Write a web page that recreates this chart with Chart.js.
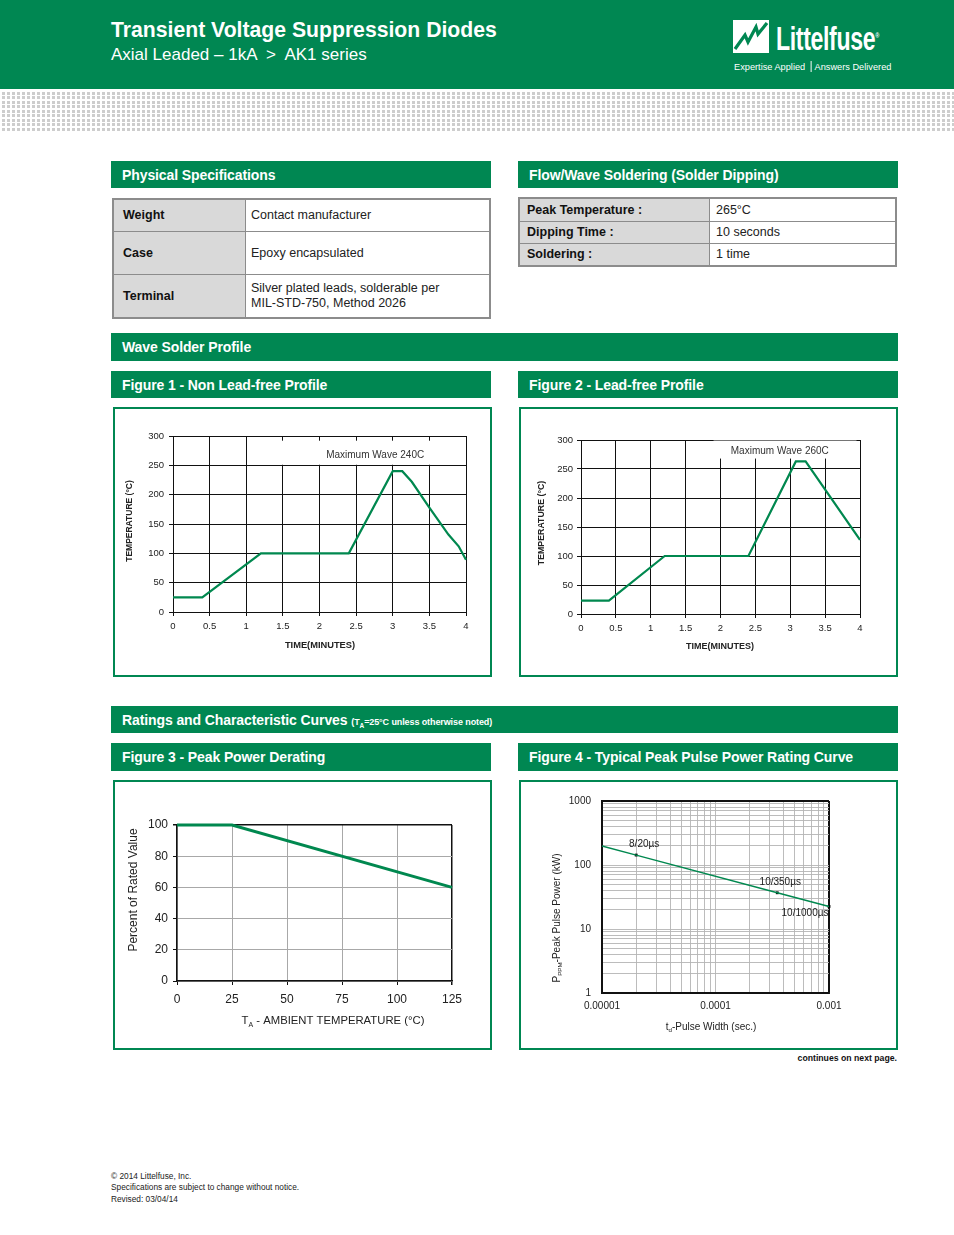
<!DOCTYPE html>
<html>
<head>
<meta charset="utf-8">
<script src="https://cdn.jsdelivr.net/npm/chart.js@4.4.1/dist/chart.umd.min.js"></script>
<style>
  body { margin: 0; width: 954px; height: 1235px; position: relative; overflow: hidden; background: #fff;
         font-family: "Liberation Sans", Arial, sans-serif; color: #222; }
  .abs { position: absolute; }
  .top { left: 0; top: 0; width: 954px; height: 89px; background: #008752; color: #fff; }
  .stripe { left: 0; top: 92px; width: 954px; height: 40px;
            background: repeating-linear-gradient(90deg, #fff 0 2px, transparent 2px 5px),
                        repeating-linear-gradient(0deg, #fff 0 1.5px, transparent 1.5px 4.5px), #cdcdcd; }
  .bar { position: absolute; background: #008752; color: #fff; font-weight: bold; font-size: 14px;
         height: 27px; line-height: 28px; padding-left: 11px; box-sizing: border-box; letter-spacing: -0.1px; white-space: nowrap; }
  .box { position: absolute; border: 2px solid #008752; box-sizing: border-box; width: 379px; height: 270px; }
  canvas { position: absolute; }
  table { position: absolute; border-collapse: collapse; font-size: 12.5px; color: #222; border: 2px solid #8c8c8c; }
  td { border: 1px solid #8c8c8c; padding: 0 0 0 5px; }
  td.k { background: #d9d9d9; font-weight: bold; color: #111; padding-left: 9px; }
  .foot { left: 111px; font-size: 8.3px; color: #222; white-space: nowrap; }
</style>
</head>
<body>

<div class="abs top">
  <div class="abs" style="left:111px;top:18px;font-size:21.2px;font-weight:bold;white-space:nowrap">Transient Voltage Suppression Diodes</div>
  <div class="abs" style="left:111px;top:45px;font-size:17px;white-space:nowrap">Axial Leaded – 1kA &nbsp;&gt;&nbsp; AK1 series</div>
  <svg class="abs" style="left:733px;top:20px" width="36" height="33" viewBox="0 0 36 33">
    <rect x="0" y="0" width="36" height="33" fill="#fff"/>
    <polyline points="2,29 12,15 15,22 23,7 25,14 34,3" fill="none" stroke="#008752" stroke-width="3.2"/>
  </svg>
  <div class="abs" style="left:776px;top:20px;font-size:33px;font-weight:bold;white-space:nowrap;transform:scaleX(0.7);transform-origin:left top;letter-spacing:-0.5px">Littelfuse<sup style="font-size:8px">®</sup></div>
  <div class="abs" style="left:734px;top:61px;font-size:9.5px;white-space:nowrap;transform:scaleX(0.97);transform-origin:left top">Expertise Applied <span style="border-left:1px solid #fff;margin:0 3px"></span> Answers Delivered</div>
</div>
<div class="abs stripe"></div>

<div class="bar" style="left:111px;top:161px;width:380px">Physical Specifications</div>
<table style="left:112px;top:198px;width:379px;height:119px">
  <tr style="height:32px"><td class="k" style="width:122px">Weight</td><td>Contact manufacturer</td></tr>
  <tr style="height:43px"><td class="k">Case</td><td>Epoxy encapsulated</td></tr>
  <tr style="height:44px"><td class="k">Terminal</td><td style="line-height:15px">Silver plated leads, solderable per<br>MIL-STD-750, Method 2026</td></tr>
</table>

<div class="bar" style="left:518px;top:161px;width:380px">Flow/Wave Soldering (Solder Dipping)</div>
<table style="left:518px;top:197px;width:379px;height:68px">
  <tr style="height:23px"><td class="k" style="width:182px;padding-left:7px">Peak Temperature :</td><td style="padding-left:6px">265°C</td></tr>
  <tr style="height:22px"><td class="k" style="padding-left:7px">Dipping Time :</td><td style="padding-left:6px">10 seconds</td></tr>
  <tr style="height:23px"><td class="k" style="padding-left:7px">Soldering :</td><td style="padding-left:6px">1 time</td></tr>
</table>

<div class="bar" style="left:111px;top:333px;width:787px;height:28px">Wave Solder Profile</div>
<div class="bar" style="left:111px;top:371px;width:380px">Figure 1 - Non Lead-free Profile</div>
<div class="bar" style="left:518px;top:371px;width:380px">Figure 2 - Lead-free Profile</div>
<div class="box" style="left:113px;top:407px"></div>
<div class="box" style="left:519px;top:407px"></div>
<canvas id="fig1" width="374" height="265" style="left:115px;top:409px"></canvas>
<canvas id="fig2" width="374" height="265" style="left:521px;top:409px"></canvas>

<div class="bar" style="left:111px;top:706px;width:787px">Ratings and Characteristic Curves <span style="font-size:9px">(T<sub style="font-size:6.5px">A</sub>=25°C unless otherwise noted)</span></div>
<div class="bar" style="left:111px;top:743px;width:380px;height:28px">Figure 3 - Peak Power Derating</div>
<div class="bar" style="left:518px;top:743px;width:380px;height:28px">Figure 4 - Typical Peak Pulse Power Rating Curve</div>
<div class="box" style="left:113px;top:780px"></div>
<div class="box" style="left:519px;top:780px"></div>
<canvas id="fig3" width="374" height="265" style="left:115px;top:782px"></canvas>
<canvas id="fig4" width="374" height="265" style="left:521px;top:782px"></canvas>

<div class="abs" style="right:57px;top:1053px;font-size:8.7px;font-weight:bold;color:#111">continues on next page.</div>
<div class="abs foot" style="top:1171px">© 2014 Littelfuse, Inc.</div>
<div class="abs foot" style="top:1182px">Specifications are subject to change without notice.</div>
<div class="abs foot" style="top:1194px">Revised: 03/04/14</div>

<script>
// Figure 1 - Non Lead-free Profile (time in minutes, temperature in °C)
const fig1Time = [0, 0.4, 1.2, 2.4, 3.0, 3.13, 3.26, 3.5, 3.76, 3.9, 4.0];
const fig1Temp = [25, 25, 100, 100, 240, 240, 222, 178, 132, 112, 89];

// Figure 2 - Lead-free Profile
const fig2Time = [0, 0.4, 1.2, 2.4, 3.08, 3.22, 4.0];
const fig2Temp = [23, 23, 100, 100, 263, 263, 128];

// Figure 3 - Peak Power Derating
const fig3Ambient = [0, 25, 125];
const fig3Percent = [100, 100, 60];

// Figure 4 - Peak pulse power vs pulse width
const fig4Width = [1e-5, 2e-5, 3.5e-4, 1e-3];
const fig4Power = [198, 143, 36.8, 22.5];
const fig4MarkIdx = [1, 2, 3];
const fig4MarkLabels = ['8/20µs', '10/350µs', '10/1000µs'];
const fig4XDecades = [1e-5, 1e-4, 1e-3];
const fig4XTickLabels = ['0.00001', '0.0001', '0.001'];
const fig4YDecades = [1, 10, 100, 1000];
const fig4YTickLabels = ['1', '10', '100', '1000'];

const GREEN = '#00884f';
const FONT = '"Liberation Sans", Arial, sans-serif';
const TXT = '#222';

const pts = (xs, ys) => xs.map((x, i) => ({ x, y: ys[i] }));

// minor log ticks (1..9 x decade) up to the last decade
const logTicks = (decades) => {
    const out = [];
    decades.forEach((d, i) => {
        if (i === decades.length - 1) { out.push(d); return; }
        for (let k = 1; k <= 9; k++) out.push(d * k);
    });
    return out;
};

// text with subscripts, centred on (x, y), optionally rotated
const drawRich = (ctx, parts, x, y, size, bold, rotate) => {
    const w0 = bold ? 'bold ' : '';
    const main = `${w0}${size}px ${FONT}`;
    const sub = `${w0}${(size * 0.62).toFixed(1)}px ${FONT}`;
    ctx.save();
    ctx.translate(x, y);
    if (rotate) ctx.rotate(-Math.PI / 2);
    let w = 0;
    parts.forEach(p => { ctx.font = p.sub ? sub : main; w += ctx.measureText(p.t).width; });
    let cx = -w / 2;
    ctx.fillStyle = TXT;
    ctx.textBaseline = 'middle';
    ctx.textAlign = 'left';
    parts.forEach(p => {
        ctx.font = p.sub ? sub : main;
        ctx.fillText(p.t, cx, p.sub ? size * 0.32 : 0);
        cx += ctx.measureText(p.t).width;
    });
    ctx.restore();
};

const decor = {
    id: 'decor',
    beforeDatasetsDraw(chart, _args, o) {
        if (!o.note) return;
        const { ctx, scales: { x, y } } = chart;
        const n = o.note;
        const l = x.getPixelForValue(n.box[0]), r = x.getPixelForValue(n.box[1]);
        const b = y.getPixelForValue(n.box[2]), t = y.getPixelForValue(n.box[3]);
        ctx.save();
        ctx.fillStyle = '#fff';
        ctx.fillRect(l, t, r - l, b - t);
        ctx.fillStyle = '#333';
        ctx.font = `10px ${FONT}`;
        ctx.textAlign = 'center';
        ctx.textBaseline = 'middle';
        ctx.fillText(n.text, x.getPixelForValue(n.at[0]), y.getPixelForValue(n.at[1]));
        ctx.restore();
    },
    afterDraw(chart, _args, o) {
        const ctx = chart.ctx;
        (o.titles || []).forEach(t =>
            drawRich(ctx, t.parts, t.x - o.origin[0], t.y - o.origin[1], t.size, t.bold, t.rotate));
        if (o.marks) {
            const meta = chart.getDatasetMeta(o.marks.dataset);
            ctx.save();
            ctx.fillStyle = TXT;
            ctx.font = `10px ${FONT}`;
            ctx.textAlign = 'center';
            ctx.textBaseline = 'middle';
            meta.data.forEach((el, i) => {
                const off = o.marks.offsets[i];
                ctx.fillText(o.marks.labels[i], el.x + off[0], el.y + off[1]);
            });
            ctx.restore();
        }
    }
};

// layout helper: place the plot area at page coords
const padFor = (origin, size, area, yW, xH) => ({
    left: area[0] - origin[0] - yW,
    right: origin[0] + size[0] - area[1],
    top: area[2] - origin[1],
    bottom: origin[1] + size[1] - area[3] - xH
});

const makeChart = (id, origin, area, yW, xH, datasets, scales, decorOpts) => {
    scales.x.afterFit = s => { s.height = xH; };
    scales.y.afterFit = s => { s.width = yW; };
    decorOpts.origin = origin;
    return new Chart(document.getElementById(id), {
        type: 'line',
        data: { datasets },
        options: {
            responsive: false,
            animation: false,
            layout: { padding: padFor(origin, [374, 265], area, yW, xH) },
            scales,
            plugins: { legend: { display: false }, tooltip: { enabled: false }, decor: decorOpts }
        },
        plugins: [decor]
    });
};

// ---------- Figures 1 and 2 : solder profiles ----------
const plain = v => String(v);

const profileScales = (labelPad) => ({
    x: {
        type: 'linear', min: 0, max: 4,
        ticks: { stepSize: 0.5, color: TXT, font: { size: 9.5, family: FONT }, padding: labelPad[1], maxRotation: 0, callback: plain },
        grid: { color: '#111', lineWidth: 1, tickLength: 4, tickColor: '#111' },
        border: { color: '#111', width: 1 }
    },
    y: {
        min: 0, max: 300,
        ticks: { stepSize: 50, color: TXT, font: { size: 9.5, family: FONT }, padding: labelPad[0] },
        grid: { color: '#111', lineWidth: 1, tickLength: 4, tickColor: '#111' },
        border: { color: '#111', width: 1 }
    }
});

const profileLine = (data) => [{
    data, borderColor: GREEN, borderWidth: 2.2, pointRadius: 0, tension: 0, clip: false
}];

makeChart('fig1', [115, 409], [173, 466, 436, 612], 40, 25,
    profileLine(pts(fig1Time, fig1Temp)), profileScales([5, 5]), {
        note: { text: 'Maximum Wave 240C', box: [1.35, 3.95, 251, 292], at: [2.76, 268] },
        titles: [
            { parts: [{ t: 'TEMPERATURE (°C)' }], x: 130, y: 521, size: 8.5, bold: true, rotate: true },
            { parts: [{ t: 'TIME(MINUTES)' }], x: 320, y: 645, size: 9.3, bold: true }
        ]
    });

makeChart('fig2', [521, 409], [581, 860, 440, 614], 40, 25,
    profileLine(pts(fig2Time, fig2Temp)), profileScales([4, 5]), {
        note: { text: 'Maximum Wave 260C', box: [1.9, 3.95, 268, 299], at: [2.85, 281] },
        titles: [
            { parts: [{ t: 'TEMPERATURE (°C)' }], x: 542, y: 523, size: 8.8, bold: true, rotate: true },
            { parts: [{ t: 'TIME(MINUTES)' }], x: 720, y: 647, size: 9, bold: true }
        ]
    });

// ---------- Figure 3 : derating ----------
const edge = (max, gray, black) => ctx => (ctx.tick && ctx.tick.value === max ? black : gray);

makeChart('fig3', [115, 782], [177, 452, 825, 981], 45, 30,
    [{ data: pts(fig3Ambient, fig3Percent), borderColor: GREEN, borderWidth: 3, pointRadius: 0, clip: false }],
    {
        x: {
            type: 'linear', min: 0, max: 125,
            ticks: { stepSize: 25, color: TXT, font: { size: 12, family: FONT }, padding: 7, maxRotation: 0 },
            grid: { color: edge(125, '#a8a8a8', '#111'), lineWidth: edge(125, 1, 1.5), tickLength: 4, tickColor: '#111' },
            border: { color: '#111', width: 1.5 }
        },
        y: {
            min: 0, max: 100,
            ticks: { stepSize: 20, color: TXT, font: { size: 12, family: FONT }, padding: 5 },
            grid: { color: edge(100, '#a8a8a8', '#111'), lineWidth: edge(100, 1, 1.5), tickLength: 4, tickColor: '#111' },
            border: { color: '#111', width: 1.5 }
        }
    }, {
        titles: [
            { parts: [{ t: 'Percent of Rated Value' }], x: 134, y: 890, size: 12, bold: false, rotate: true },
            { parts: [{ t: 'T' }, { t: 'A', sub: true }, { t: ' - AMBIENT TEMPERATURE (°C)' }], x: 333, y: 1021, size: 11.3, bold: false }
        ]
    });

// ---------- Figure 4 : pulse power curve ----------
const decadeLabel = (decades, labels) => (value) => {
    const i = decades.findIndex(d => Math.abs(value / d - 1) < 1e-6);
    return i >= 0 ? labels[i] : '';
};

makeChart('fig4', [521, 782], [602, 829, 801, 993], 50, 25,
    [
        { data: pts(fig4Width, fig4Power), borderColor: GREEN, borderWidth: 1.4, pointRadius: 0, clip: false },
        {
            data: fig4MarkIdx.map(i => ({ x: fig4Width[i], y: fig4Power[i] })),
            showLine: false, pointStyle: 'rect', pointRadius: 2, pointBackgroundColor: '#000',
            pointBorderColor: '#000', pointBorderWidth: 0, clip: false
        }
    ],
    {
        x: {
            type: 'logarithmic', min: 1e-5, max: 1e-3,
            afterBuildTicks: s => { s.ticks = logTicks(fig4XDecades).map(v => ({ value: v })); },
            ticks: { autoSkip: false, maxRotation: 0, color: TXT, font: { size: 10, family: FONT }, padding: 7,
                     callback: decadeLabel(fig4XDecades, fig4XTickLabels) },
            grid: { color: edge(1e-3, '#b4b4b4', '#111'), lineWidth: edge(1e-3, 0.9, 2), drawTicks: false },
            border: { color: '#111', width: 2 }
        },
        y: {
            type: 'logarithmic', min: 1, max: 1000,
            afterBuildTicks: s => { s.ticks = logTicks(fig4YDecades).map(v => ({ value: v })); },
            ticks: { autoSkip: false, color: TXT, font: { size: 10, family: FONT }, padding: 11,
                     callback: decadeLabel(fig4YDecades, fig4YTickLabels) },
            grid: { color: edge(1000, '#b4b4b4', '#111'), lineWidth: edge(1000, 0.9, 2), drawTicks: false },
            border: { color: '#111', width: 2 }
        }
    }, {
        marks: { dataset: 1, labels: fig4MarkLabels, offsets: [[8, -11], [3, -11], [-24, 7]] },
        titles: [
            { parts: [{ t: 'P' }, { t: 'PPM', sub: true }, { t: '-Peak Pulse Power (kW)' }], x: 557, y: 918, size: 10, bold: false, rotate: true },
            { parts: [{ t: 't' }, { t: 'd', sub: true }, { t: '-Pulse Width (sec.)' }], x: 711, y: 1027, size: 10, bold: false }
        ]
    });
</script>
</body>
</html>
